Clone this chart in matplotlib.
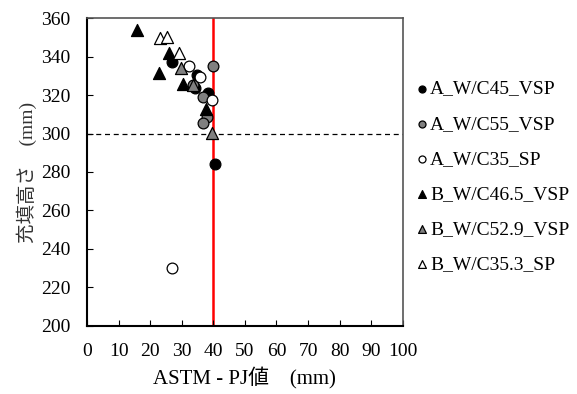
import matplotlib.pyplot as plt

plt.rcParams['font.family'] = ['Liberation Serif', 'Noto Sans CJK JP']

# ASTM-PJ (mm) vs 充填高さ (mm)
a45_x = [27.0, 34.7, 34.2, 38.3, 40.5]
a45_y = [337.0, 330.5, 323.5, 321.0, 284.0]

a55_x = [40.0, 36.7, 37.9, 36.6, 33.5]
a55_y = [335.0, 319.0, 308.5, 305.5, 325.0]

a35_x = [32.3, 35.8, 39.5, 27.0]
a35_y = [335.0, 329.5, 317.5, 230.3]

b465_x = [15.7, 26.0, 22.8, 30.5, 37.6]
b465_y = [354.0, 341.7, 331.3, 325.5, 312.5]

b529_x = [29.8, 33.6, 39.5]
b529_y = [334.0, 325.0, 300.5]

b353_x = [23.1, 25.4, 29.0]
b353_y = [349.5, 350.3, 342.0]

series = [
    ('A_W/C45_VSP', a45_x, a45_y, 'o', 'black'),
    ('A_W/C55_VSP', a55_x, a55_y, 'o', 'gray'),
    ('A_W/C35_SP', a35_x, a35_y, 'o', 'white'),
    ('B_W/C46.5_VSP', b465_x, b465_y, '^', 'black'),
    ('B_W/C52.9_VSP', b529_x, b529_y, '^', 'gray'),
    ('B_W/C35.3_SP', b353_x, b353_y, '^', 'white'),
]

fig = plt.figure(figsize=(5.77, 3.94), dpi=100)
ax = fig.add_axes([0.151, 0.173, 0.547, 0.781])

ax.axvline(40, color='red', lw=1.8, zorder=1)
ax.axhline(300, color='black', lw=0.9, ls=(0, (4, 3)), zorder=1)

for label, xs, ys, mk, fc in series:
    ax.scatter(xs, ys, marker=mk, s=60 if mk == 'o' else 75, facecolor=fc,
               edgecolor='black', linewidth=0.9, label=label, zorder=3)

ax.set_xlim(0, 100)
ax.set_ylim(200, 360)
ax.set_xticks(range(0, 101, 10))
ax.set_yticks(range(200, 361, 20))
ax.tick_params(direction='in', length=4, labelsize=14, pad=12)
for s in ['left', 'bottom']:
    ax.spines[s].set_linewidth(1.5)
for s in ['top', 'right']:
    ax.spines[s].set_color('#555555')
    ax.spines[s].set_linewidth(1.2)

ax.set_xlabel('ASTM - PJ値\u3000(mm)', fontsize=15, labelpad=6)
ax.set_ylabel('充填高さ\u3000(mm)', fontsize=14, color='#333333', labelpad=3)

ax.legend(loc='center left', bbox_to_anchor=(1.0, 0.485), frameon=False,
          fontsize=14, markerscale=0.65, handlelength=0.6, handletextpad=0.1,
          labelspacing=0.9, borderaxespad=0.3)

fig.savefig('out.png', dpi=100)
